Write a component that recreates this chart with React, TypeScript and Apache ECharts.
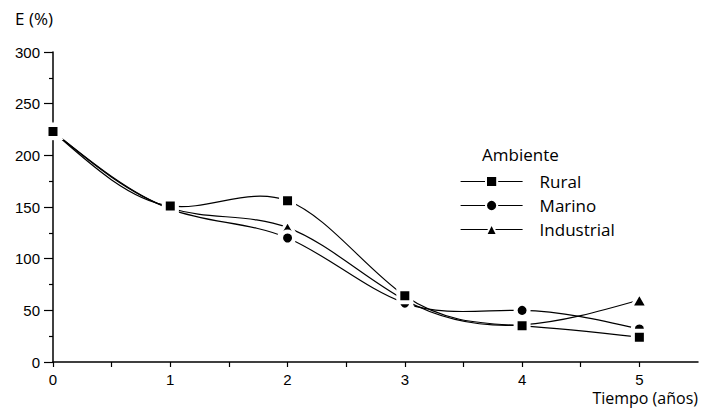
import React, { useEffect, useRef } from "react";
import * as echarts from "echarts";

// Elapsed time in years
const tiempo = [0, 1, 2, 3, 4, 5];
// E (%) per environment
const rural = [223, 151, 156, 64, 35, 24];
const marino = [223, 148, 120, 57, 50, 32];
const industrial = [223, 149, 130, 60, 36, 60];

const seriesNames = ["Rural", "Marino", "Industrial"];
const seriesSymbols = ["rect", "circle", "triangle"];
const seriesValues = [rural, marino, industrial];

const axisFont = "'Liberation Sans', Arial, sans-serif";
const textFont = "'Open Sans', 'Noto Sans', sans-serif";

// Slopes of a natural cubic spline through (xs, ys), used for the Bezier segments.
function splineSlopes(xs: number[], ys: number[]): number[] {
  const n = xs.length;
  const h = xs.slice(1).map((x, i) => x - xs[i]);
  const M = new Array(n).fill(0);
  if (n > 2) {
    const a: number[] = [], b: number[] = [], c: number[] = [], d: number[] = [];
    for (let i = 1; i < n - 1; i++) {
      a.push(h[i - 1]);
      b.push(2 * (h[i - 1] + h[i]));
      c.push(h[i]);
      d.push(6 * ((ys[i + 1] - ys[i]) / h[i] - (ys[i] - ys[i - 1]) / h[i - 1]));
    }
    const m = b.length;
    const cp = new Array(m).fill(0), dp = new Array(m).fill(0);
    cp[0] = c[0] / b[0];
    dp[0] = d[0] / b[0];
    for (let i = 1; i < m; i++) {
      const den = b[i] - a[i] * cp[i - 1];
      cp[i] = c[i] / den;
      dp[i] = (d[i] - a[i] * dp[i - 1]) / den;
    }
    const sol = new Array(m).fill(0);
    sol[m - 1] = dp[m - 1];
    for (let i = m - 2; i >= 0; i--) sol[i] = dp[i] - cp[i] * sol[i + 1];
    for (let i = 0; i < m; i++) M[i + 1] = sol[i];
  }
  const s: number[] = [];
  for (let i = 0; i < n - 1; i++) {
    s.push((ys[i + 1] - ys[i]) / h[i] - (h[i] * (2 * M[i] + M[i + 1])) / 6);
  }
  s.push((ys[n - 1] - ys[n - 2]) / h[n - 2] + (h[n - 2] * (M[n - 2] + 2 * M[n - 1])) / 6);
  return s;
}

export default function App() {
  const ref = useRef<HTMLDivElement>(null);

  useEffect(() => {
    if (!ref.current) return;
    const chart = echarts.init(ref.current, null, { renderer: "svg" });

    // Smooth curves: one cubic Bezier per interval between consecutive measurements.
    const curves = seriesValues.map((vals, si) => {
      const slopes = splineSlopes(tiempo, vals);
      return {
        id: "curve-" + si,
        type: "custom",
        silent: true,
        z: 2,
        data: tiempo.map((t, k) => [t, vals[k]]),
        renderItem: (params: any, api: any) => {
          const i = params.dataIndex;
          if (i >= tiempo.length - 1) return null;
          const hx = tiempo[i + 1] - tiempo[i];
          const p0 = api.coord([tiempo[i], vals[i]]);
          const p1 = api.coord([tiempo[i + 1], vals[i + 1]]);
          const c0 = api.coord([tiempo[i] + hx / 3, vals[i] + (slopes[i] * hx) / 3]);
          const c1 = api.coord([tiempo[i + 1] - hx / 3, vals[i + 1] - (slopes[i + 1] * hx) / 3]);
          return {
            type: "bezierCurve",
            shape: {
              x1: p0[0], y1: p0[1], x2: p1[0], y2: p1[1],
              cpx1: c0[0], cpy1: c0[1], cpx2: c1[0], cpy2: c1[1],
            },
            style: { stroke: "#000", lineWidth: 1.2, fill: "none" },
          };
        },
      };
    });

    // Markers (white halo leaves a gap where the curves meet them).
    const markers = seriesNames.map((name, i) => {
      const tri = seriesSymbols[i] === "triangle";
      return {
        name,
        type: "line",
        data: tiempo.map((t, k) => [t, seriesValues[i][k]]),
        symbol: seriesSymbols[i],
        symbolSize: tri ? [16, 14] : 13,
        showSymbol: true,
        lineStyle: { opacity: 0 },
        itemStyle: { color: "#000", borderColor: "#fff", borderWidth: tri ? 3 : 4 },
        z: 5 - i,
      };
    });

    chart.setOption({
      animation: false,
      backgroundColor: "#fff",
      grid: { left: 53, right: 1, top: 52, bottom: 54, containLabel: false },
      title: {
        text: "Ambiente",
        left: 482,
        top: 146,
        padding: 0,
        textStyle: { fontFamily: textFont, fontSize: 17, fontWeight: "normal", color: "#000" },
      },
      legend: {
        orient: "vertical",
        left: 460,
        top: 173,
        padding: 0,
        itemWidth: 62,
        itemHeight: 14,
        itemGap: 7,
        lineStyle: { color: "#000", width: 1.2, opacity: 1 },
        textStyle: {
          fontFamily: textFont,
          fontSize: 17,
          color: "#000",
          padding: [0, 0, 0, 12],
        },
        data: seriesNames,
      },
      xAxis: {
        type: "value",
        min: 0,
        max: 5.5,
        interval: 0.5,
        name: "Tiempo (años)",
        nameLocation: "end",
        nameGap: 0,
        nameTextStyle: {
          fontFamily: textFont,
          fontSize: 16,
          color: "#000",
          align: "right",
          verticalAlign: "top",
          padding: [28, 0, 0, 0],
        },
        axisLine: { lineStyle: { color: "#000", width: 1.5 } },
        axisTick: { length: 5, lineStyle: { color: "#000", width: 1.2 } },
        axisLabel: {
          fontFamily: axisFont,
          fontSize: 15,
          color: "#000",
          margin: 10,
          showMaxLabel: false,
          formatter: (v: number) => (Number.isInteger(v) ? String(v) : ""),
        },
        splitLine: { show: false },
      },
      yAxis: {
        type: "value",
        min: 0,
        max: 300,
        interval: 50,
        name: "E (%)",
        nameLocation: "end",
        nameGap: 25,
        nameTextStyle: {
          fontFamily: textFont,
          fontSize: 17,
          color: "#000",
          align: "right",
          padding: [0, 0, 0, 0],
        },
        axisLine: { show: true, lineStyle: { color: "#000", width: 1.5 } },
        axisTick: { show: true, length: 9, lineStyle: { color: "#000", width: 1.2 } },
        minorTick: { show: true, splitNumber: 2, length: 4, lineStyle: { color: "#000", width: 1.2 } },
        axisLabel: { fontFamily: axisFont, fontSize: 15, color: "#000", margin: 13 },
        splitLine: { show: false },
      },
      series: [...curves, ...markers],
    });

    return () => chart.dispose();
  }, []);

  return <div ref={ref} style={{ width: 701, height: 416, position: "absolute", left: 0, top: 0 }} />;
}
